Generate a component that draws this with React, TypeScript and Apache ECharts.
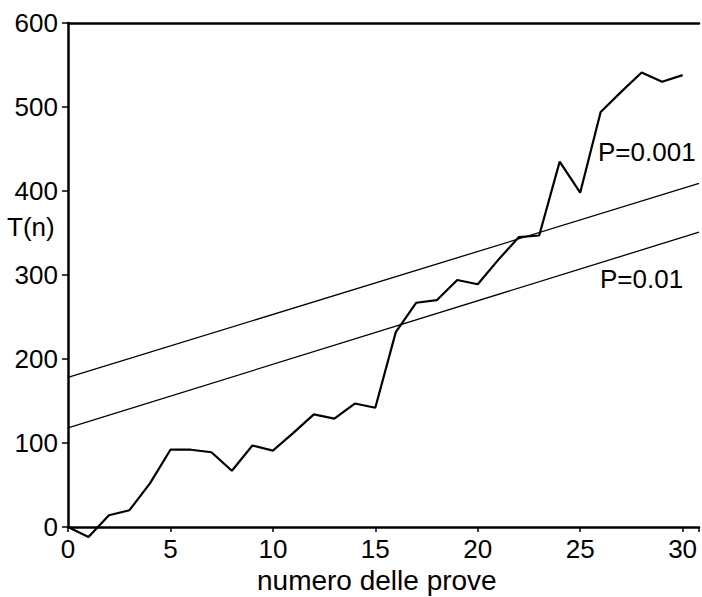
import React, { useEffect, useRef } from "react";
import * as echarts from "echarts";

// Trial number n (x axis)
const trials = [0, 1, 2, 3, 4, 5, 6, 7, 8, 9, 10, 11, 12, 13, 14, 15, 16, 17, 18, 19, 20, 21, 22, 23, 24, 25, 26, 27, 28, 29, 30];
// Cumulative statistic T(n)
const tValues = [0, -12, 14, 20, 52, 92, 92, 89, 67, 97, 91, 112, 134, 129, 147, 142, 232, 267, 270, 294, 289, 318, 345, 347, 435, 398, 494, 518, 541, 530, 538];
// Significance threshold lines (endpoints)
const thresholdX = [0, 30.8];
const p001Values = [178, 409];
const p01Values = [118, 351];
// Axis ticks
const xTicks = [0, 5, 10, 15, 20, 25, 30];
const yTicks = [0, 100, 200, 300, 400, 500, 600];

const FONT = "'Liberation Sans', Arial, Helvetica, sans-serif";

export default function App() {
  const ref = useRef<HTMLDivElement>(null);

  useEffect(() => {
    if (!ref.current) return;
    const chart = echarts.init(ref.current, undefined, { renderer: "svg" });
    const lineData = trials.map((n, i) => [n, tValues[i]]);
    const p001Data = thresholdX.map((x, i) => [x, p001Values[i]]);
    const p01Data = thresholdX.map((x, i) => [x, p01Values[i]]);
    chart.setOption({
      animation: false,
      backgroundColor: "#ffffff",
      grid: { left: 68, top: 23, right: 0, bottom: 70, containLabel: false },
      xAxis: [
        {
          type: "value",
          min: 0,
          max: 30.8,
          interval: 5,
          position: "bottom",
          splitLine: { show: false },
          axisLine: { show: true, onZero: false, lineStyle: { color: "#000", width: 2.5 } },
          axisTick: { show: true, inside: false, length: 5, lineStyle: { color: "#000", width: 1.5 } },
          axisLabel: {
            show: true,
            margin: 9,
            color: "#000",
            fontSize: 26,
            lineHeight: 26,
            fontFamily: FONT,
            showMaxLabel: true,
            formatter: (v: number) => (xTicks.includes(v) ? String(v) : ""),
          },
        },
        {
          type: "value",
          min: 0,
          max: 30.8,
          position: "top",
          splitLine: { show: false },
          axisLine: { show: true, onZero: false, lineStyle: { color: "#000", width: 2.5 } },
          axisTick: { show: false },
          axisLabel: { show: false },
        },
      ],
      yAxis: {
        type: "value",
        min: 0,
        max: 600,
        interval: 100,
        splitLine: { show: false },
        axisLine: { show: true, onZero: false, lineStyle: { color: "#000", width: 2.5 } },
        axisTick: { show: true, length: 6, lineStyle: { color: "#000", width: 1.5 } },
        axisLabel: {
          margin: 10,
          color: "#000",
          fontSize: 26,
          fontFamily: FONT,
          formatter: (v: number) => (yTicks.includes(v) ? String(v) : ""),
        },
      },
      series: [
        {
          type: "line",
          data: p001Data,
          symbol: "none",
          lineStyle: { color: "#000", width: 1.3 },
          silent: true,
        },
        {
          type: "line",
          data: p01Data,
          symbol: "none",
          lineStyle: { color: "#000", width: 1.3 },
          silent: true,
        },
        {
          type: "line",
          data: lineData,
          symbol: "none",
          clip: false,
          lineStyle: { color: "#000", width: 2.2 },
          silent: true,
        },
      ],
      graphic: [
        {
          type: "text",
          left: 7,
          top: 214,
          style: { text: "T(n)", fill: "#000", font: `26px ${FONT}` },
        },
        {
          type: "text",
          left: 598,
          top: 139,
          style: { text: "P=0.001", fill: "#000", font: `26px ${FONT}` },
        },
        {
          type: "text",
          left: 600,
          top: 266,
          style: { text: "P=0.01", fill: "#000", font: `26px ${FONT}` },
        },
        {
          type: "text",
          left: 257,
          top: 566,
          style: { text: "numero delle prove", fill: "#000", font: `28px ${FONT}` },
        },
      ],
    });
    return () => chart.dispose();
  }, []);

  return (
    <div
      ref={ref}
      style={{ position: "fixed", left: 0, top: 0, width: 702, height: 597, background: "#fff" }}
    />
  );
}
